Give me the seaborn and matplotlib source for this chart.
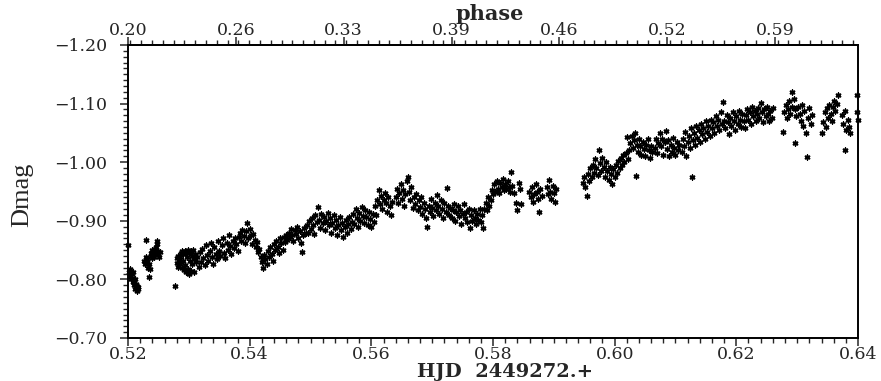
import matplotlib
matplotlib.use("Agg")
import matplotlib.pyplot as plt
from matplotlib.ticker import MultipleLocator, FixedLocator, FuncFormatter
import seaborn as sns
import pandas as pd

# Differential magnitudes, grouped by stretch of the night: (HJD - 2449272, Dmag)
obs_start = [
    (0.5200, -0.859), (0.5202, -0.812), (0.5203, -0.806), (0.5204, -0.818), (0.5205, -0.800),
    (0.5206, -0.810), (0.5207, -0.803), (0.5208, -0.795), (0.5209, -0.812), (0.5210, -0.790),
    (0.5211, -0.800), (0.5212, -0.784), (0.5213, -0.793), (0.5214, -0.788), (0.5215, -0.781),
    (0.5216, -0.787), (0.5217, -0.783),
    (0.5227, -0.832), (0.5228, -0.826), (0.5229, -0.838), (0.5230, -0.867), (0.5231, -0.829),
    (0.5232, -0.835), (0.5233, -0.820), (0.5234, -0.804), (0.5235, -0.826), (0.5236, -0.818),
    (0.5237, -0.840), (0.5238, -0.845), (0.5239, -0.836), (0.5240, -0.850), (0.5241, -0.842),
    (0.5242, -0.848), (0.5243, -0.838), (0.5244, -0.852), (0.5245, -0.845), (0.5246, -0.855),
    (0.5247, -0.866), (0.5248, -0.860), (0.5249, -0.849), (0.5250, -0.843), (0.5251, -0.838),
    (0.5252, -0.846), (0.5277, -0.788),
]

obs_rise = [
    (0.5280, -0.836), (0.5281, -0.828), (0.5282, -0.840), (0.5283, -0.822), (0.5284, -0.833),
    (0.5285, -0.826), (0.5286, -0.838), (0.5287, -0.845), (0.5288, -0.820), (0.5289, -0.848),
    (0.5290, -0.831), (0.5291, -0.843), (0.5292, -0.816), (0.5293, -0.849), (0.5294, -0.825),
    (0.5295, -0.847), (0.5296, -0.812), (0.5297, -0.838), (0.5298, -0.851), (0.5299, -0.818),
    (0.5300, -0.845), (0.5301, -0.809), (0.5302, -0.832), (0.5303, -0.848), (0.5304, -0.815),
    (0.5305, -0.840), (0.5306, -0.826), (0.5307, -0.851), (0.5308, -0.835), (0.5309, -0.812),
    (0.5310, -0.843), (0.5311, -0.830), (0.5314, -0.838), (0.5316, -0.822), (0.5318, -0.846),
    (0.5320, -0.830), (0.5322, -0.852), (0.5324, -0.836), (0.5326, -0.825), (0.5328, -0.858),
    (0.5330, -0.842), (0.5332, -0.831), (0.5334, -0.849), (0.5336, -0.862), (0.5338, -0.838),
    (0.5340, -0.826), (0.5342, -0.855), (0.5344, -0.843), (0.5346, -0.834), (0.5348, -0.866),
    (0.5350, -0.848), (0.5352, -0.840), (0.5354, -0.858), (0.5356, -0.870), (0.5358, -0.845),
    (0.5360, -0.836), (0.5362, -0.862), (0.5364, -0.851), (0.5366, -0.876), (0.5368, -0.857),
    (0.5370, -0.844), (0.5372, -0.866), (0.5374, -0.853), (0.5376, -0.870), (0.5378, -0.860),
    (0.5380, -0.848), (0.5382, -0.872), (0.5384, -0.880), (0.5386, -0.866), (0.5388, -0.885),
    (0.5390, -0.874), (0.5392, -0.862), (0.5394, -0.882), (0.5396, -0.896), (0.5398, -0.870),
    (0.5400, -0.886), (0.5402, -0.876), (0.5404, -0.860), (0.5406, -0.878), (0.5408, -0.868),
    (0.5410, -0.856), (0.5412, -0.864), (0.5414, -0.846), (0.5416, -0.852), (0.5418, -0.838),
    (0.5420, -0.830), (0.5422, -0.820), (0.5424, -0.842), (0.5426, -0.834), (0.5428, -0.826),
    (0.5430, -0.848), (0.5432, -0.838), (0.5434, -0.855), (0.5436, -0.844), (0.5438, -0.832),
    (0.5440, -0.860), (0.5442, -0.850), (0.5444, -0.866), (0.5446, -0.856), (0.5448, -0.845),
    (0.5450, -0.870), (0.5452, -0.862), (0.5454, -0.850), (0.5456, -0.872), (0.5458, -0.864),
    (0.5460, -0.876), (0.5462, -0.868), (0.5464, -0.880), (0.5466, -0.872), (0.5468, -0.886),
    (0.5470, -0.875), (0.5472, -0.866), (0.5474, -0.884), (0.5476, -0.878), (0.5478, -0.890),
    (0.5480, -0.870), (0.5482, -0.882), (0.5484, -0.862), (0.5486, -0.846), (0.5488, -0.876),
    (0.5490, -0.888), (0.5492, -0.880),
]

obs_middle = [
    (0.5494, -0.892), (0.5496, -0.880), (0.5498, -0.900), (0.5500, -0.886), (0.5502, -0.904),
    (0.5504, -0.893), (0.5506, -0.878), (0.5508, -0.910), (0.5510, -0.898), (0.5512, -0.924),
    (0.5514, -0.902), (0.5516, -0.888), (0.5518, -0.912), (0.5520, -0.896), (0.5522, -0.906),
    (0.5524, -0.884), (0.5526, -0.900), (0.5528, -0.914), (0.5530, -0.893), (0.5532, -0.905),
    (0.5534, -0.880), (0.5536, -0.897), (0.5538, -0.910), (0.5540, -0.888), (0.5542, -0.902),
    (0.5544, -0.876), (0.5546, -0.893), (0.5548, -0.906), (0.5550, -0.884), (0.5552, -0.897),
    (0.5554, -0.872), (0.5556, -0.890), (0.5558, -0.902), (0.5560, -0.880), (0.5562, -0.894),
    (0.5564, -0.906), (0.5566, -0.886), (0.5568, -0.898), (0.5570, -0.912), (0.5572, -0.894),
    (0.5574, -0.920), (0.5576, -0.904), (0.5578, -0.890), (0.5580, -0.914), (0.5582, -0.900),
    (0.5584, -0.924), (0.5586, -0.908), (0.5588, -0.896), (0.5590, -0.918), (0.5592, -0.906),
    (0.5594, -0.892), (0.5596, -0.915), (0.5598, -0.903), (0.5600, -0.890), (0.5602, -0.912),
    (0.5604, -0.898), (0.5606, -0.925), (0.5608, -0.910), (0.5610, -0.935), (0.5612, -0.952),
    (0.5614, -0.928), (0.5616, -0.942), (0.5618, -0.920), (0.5620, -0.936), (0.5622, -0.948),
    (0.5624, -0.930), (0.5626, -0.915), (0.5628, -0.940), (0.5630, -0.925), (0.5632, -0.910),
    (0.5634, -0.932), (0.5640, -0.940), (0.5642, -0.955), (0.5644, -0.930), (0.5646, -0.948),
    (0.5648, -0.962), (0.5650, -0.938), (0.5652, -0.952), (0.5654, -0.925), (0.5656, -0.945),
    (0.5658, -0.968), (0.5660, -0.975), (0.5662, -0.950), (0.5664, -0.935), (0.5666, -0.958),
    (0.5668, -0.922), (0.5670, -0.940), (0.5672, -0.928), (0.5674, -0.946), (0.5676, -0.918),
    (0.5678, -0.935), (0.5680, -0.924), (0.5682, -0.940), (0.5684, -0.912), (0.5686, -0.930),
    (0.5688, -0.920), (0.5690, -0.905), (0.5692, -0.889), (0.5694, -0.926), (0.5696, -0.915),
    (0.5698, -0.938), (0.5700, -0.922), (0.5702, -0.908), (0.5704, -0.930), (0.5706, -0.918),
    (0.5708, -0.944), (0.5710, -0.926), (0.5712, -0.912), (0.5714, -0.935), (0.5716, -0.920),
    (0.5718, -0.905), (0.5720, -0.930), (0.5722, -0.915), (0.5724, -0.956), (0.5726, -0.925),
    (0.5728, -0.910), (0.5730, -0.922), (0.5732, -0.905), (0.5734, -0.918), (0.5736, -0.928),
    (0.5738, -0.900), (0.5740, -0.915), (0.5742, -0.925), (0.5744, -0.908), (0.5746, -0.918),
    (0.5748, -0.895), (0.5750, -0.912), (0.5752, -0.928), (0.5754, -0.905), (0.5756, -0.915),
    (0.5758, -0.898), (0.5760, -0.920), (0.5762, -0.888), (0.5764, -0.910), (0.5766, -0.900),
    (0.5768, -0.918), (0.5770, -0.905), (0.5772, -0.895), (0.5774, -0.912), (0.5776, -0.902),
    (0.5778, -0.920), (0.5780, -0.898), (0.5782, -0.910), (0.5784, -0.888), (0.5786, -0.920),
    (0.5788, -0.930), (0.5790, -0.918), (0.5792, -0.940), (0.5794, -0.925), (0.5796, -0.935),
    (0.5798, -0.952), (0.5800, -0.945), (0.5802, -0.962), (0.5804, -0.950), (0.5806, -0.968),
    (0.5808, -0.955), (0.5810, -0.948), (0.5812, -0.965), (0.5814, -0.958), (0.5816, -0.972),
    (0.5818, -0.952), (0.5820, -0.962), (0.5822, -0.955), (0.5824, -0.968), (0.5826, -0.958),
    (0.5828, -0.950), (0.5830, -0.983), (0.5832, -0.960), (0.5834, -0.948), (0.5838, -0.930),
    (0.5840, -0.918), (0.5842, -0.965), (0.5844, -0.955), (0.5846, -0.928), (0.5860, -0.950),
    (0.5862, -0.940), (0.5864, -0.958), (0.5866, -0.932), (0.5868, -0.945), (0.5870, -0.962),
    (0.5872, -0.950), (0.5874, -0.938), (0.5876, -0.915), (0.5878, -0.955), (0.5880, -0.942),
    (0.5888, -0.958), (0.5890, -0.945), (0.5892, -0.970), (0.5894, -0.950), (0.5896, -0.938),
    (0.5898, -0.960), (0.5900, -0.948), (0.5902, -0.932), (0.5904, -0.955),
]

obs_late = [
    (0.5948, -0.965), (0.5950, -0.975), (0.5952, -0.958), (0.5954, -0.942), (0.5956, -0.980),
    (0.5958, -0.968), (0.5960, -0.990), (0.5962, -0.975), (0.5964, -0.995), (0.5966, -0.982),
    (0.5968, -1.005), (0.5970, -0.990), (0.5972, -0.978), (0.5974, -1.021), (0.5976, -0.998),
    (0.5978, -0.985), (0.5980, -1.008), (0.5982, -0.992), (0.5984, -0.975), (0.5986, -1.000),
    (0.5988, -0.985), (0.5990, -0.970), (0.5992, -0.992), (0.5994, -0.980), (0.5996, -0.962),
    (0.5998, -0.988), (0.6000, -0.975), (0.6002, -0.995), (0.6004, -0.982), (0.6006, -1.002),
    (0.6008, -0.990), (0.6010, -1.008), (0.6012, -0.995), (0.6014, -1.012), (0.6016, -1.000),
    (0.6018, -1.015), (0.6020, -1.043), (0.6022, -1.006), (0.6024, -1.020), (0.6026, -1.032),
    (0.6028, -1.045), (0.6030, -1.025), (0.6032, -1.038), (0.6034, -1.050), (0.6035, -0.976),
    (0.6036, -1.030), (0.6038, -1.018), (0.6040, -1.040), (0.6042, -1.028), (0.6044, -1.012),
    (0.6046, -1.035), (0.6048, -1.022), (0.6050, -1.010), (0.6052, -1.030), (0.6054, -1.040),
    (0.6056, -1.020), (0.6058, -1.008), (0.6060, -1.028), (0.6062, -1.018), (0.6066, -1.025),
    (0.6068, -1.040), (0.6070, -1.015), (0.6072, -1.032), (0.6074, -1.050), (0.6076, -1.028),
    (0.6078, -1.040), (0.6080, -1.012), (0.6082, -1.035), (0.6084, -1.053), (0.6086, -1.022),
    (0.6088, -1.038), (0.6090, -1.010), (0.6092, -1.030), (0.6094, -1.018), (0.6096, -1.042),
    (0.6098, -1.025), (0.6100, -1.012), (0.6102, -1.035), (0.6104, -1.020), (0.6106, -1.030),
    (0.6110, -1.018), (0.6112, -1.040), (0.6114, -1.028), (0.6116, -1.052), (0.6118, -1.010),
    (0.6120, -1.035), (0.6122, -1.045), (0.6124, -1.025), (0.6126, -1.058), (0.6127, -0.975),
    (0.6128, -1.038), (0.6130, -1.050), (0.6132, -1.030), (0.6134, -1.062), (0.6136, -1.042),
    (0.6138, -1.055), (0.6140, -1.035), (0.6142, -1.065), (0.6144, -1.048), (0.6146, -1.058),
    (0.6148, -1.040), (0.6150, -1.070), (0.6152, -1.052), (0.6154, -1.062), (0.6156, -1.045),
    (0.6158, -1.072), (0.6160, -1.058), (0.6162, -1.068), (0.6164, -1.050), (0.6166, -1.078),
    (0.6168, -1.062), (0.6170, -1.072), (0.6172, -1.055), (0.6174, -1.085), (0.6176, -1.065),
    (0.6178, -1.103), (0.6180, -1.070), (0.6182, -1.058), (0.6184, -1.080), (0.6186, -1.068),
    (0.6188, -1.048), (0.6190, -1.075), (0.6192, -1.062), (0.6194, -1.085), (0.6196, -1.070),
    (0.6198, -1.055), (0.6200, -1.078), (0.6202, -1.065), (0.6204, -1.088), (0.6206, -1.072),
    (0.6208, -1.060), (0.6210, -1.082), (0.6212, -1.070), (0.6214, -1.058), (0.6216, -1.080),
    (0.6218, -1.090), (0.6220, -1.072), (0.6222, -1.085), (0.6224, -1.065), (0.6226, -1.095),
    (0.6228, -1.078), (0.6230, -1.088), (0.6232, -1.070), (0.6234, -1.082), (0.6236, -1.092),
    (0.6238, -1.075), (0.6240, -1.101), (0.6242, -1.085), (0.6244, -1.068), (0.6246, -1.090),
    (0.6248, -1.078), (0.6250, -1.095), (0.6252, -1.082), (0.6254, -1.070), (0.6256, -1.088),
    (0.6258, -1.076), (0.6260, -1.092),
]

obs_end = [
    (0.6277, -1.052), (0.6279, -1.085), (0.6281, -1.098), (0.6283, -1.075), (0.6285, -1.090),
    (0.6287, -1.105), (0.6289, -1.082), (0.6291, -1.095), (0.6292, -1.120), (0.6294, -1.108),
    (0.6296, -1.090), (0.6297, -1.033), (0.6298, -1.078), (0.6302, -1.095), (0.6304, -1.082),
    (0.6306, -1.070), (0.6308, -1.098), (0.6310, -1.062), (0.6312, -1.088), (0.6314, -1.050),
    (0.6316, -1.009), (0.6318, -1.075), (0.6320, -1.092), (0.6322, -1.065), (0.6324, -1.080),
    (0.6341, -1.050), (0.6343, -1.068), (0.6345, -1.085), (0.6347, -1.060), (0.6349, -1.092),
    (0.6351, -1.075), (0.6353, -1.098), (0.6355, -1.082), (0.6357, -1.070), (0.6359, -1.095),
    (0.6361, -1.105), (0.6363, -1.088), (0.6365, -1.100), (0.6367, -1.115), (0.6374, -1.080),
    (0.6376, -1.065), (0.6378, -1.088), (0.6379, -1.021), (0.6381, -1.055), (0.6383, -1.072),
    (0.6385, -1.060), (0.6387, -1.050), (0.6398, -1.115), (0.6399, -1.085), (0.6400, -1.072),
]

# Phase scale shown along the top edge
phase_ticks = [0.20, 0.265, 0.33, 0.395, 0.46, 0.525, 0.59]
phase_labels = ["0.20", "0.26", "0.33", "0.39", "0.46", "0.52", "0.59"]
PHASE_AT_START = 0.20
PERIOD = 0.2728  # days
HJD_START = 0.52

rows = obs_start + obs_rise + obs_middle + obs_late + obs_end
df = pd.DataFrame(rows, columns=["hjd", "dmag"])

sns.set_style("ticks")
plt.rcParams["font.family"] = ["DejaVu Serif"]
plt.rcParams["axes.linewidth"] = 1.4

fig = plt.figure(figsize=(8.81, 3.81), dpi=100)
ax = fig.add_axes([128 / 881, 1 - 338 / 381, 730 / 881, 293 / 381])

sns.scatterplot(data=df, x="hjd", y="dmag", ax=ax, color="black",
                marker=(6, 2, 0), s=12, linewidth=1.1, edgecolor="black",
                legend=False, clip_on=False, zorder=3)

ax.set_xlim(0.52, 0.64)
ax.set_ylim(-0.70, -1.20)
ax.set_xlabel("")
ax.set_ylabel("")

for side in ["top", "right", "left", "bottom"]:
    ax.spines[side].set_visible(True)
    ax.spines[side].set_color("black")

minus = "\u2212"
ax.xaxis.set_major_locator(MultipleLocator(0.02))
ax.xaxis.set_minor_locator(MultipleLocator(0.002))
ax.xaxis.set_major_formatter(FuncFormatter(lambda v, p: f"{v:.2f}"))
ax.yaxis.set_major_locator(MultipleLocator(0.10))
ax.yaxis.set_minor_locator(MultipleLocator(0.01))
ax.yaxis.set_major_formatter(FuncFormatter(lambda v, p: f"{minus}{abs(v):.2f}"))

ax.tick_params(axis="x", which="major", direction="out", length=6, width=1.1,
               labelsize=12.5, pad=0, top=False)
ax.tick_params(axis="x", which="minor", direction="out", length=3.5, width=1.0, top=False)
ax.tick_params(axis="y", which="major", direction="out", length=6, width=1.1,
               labelsize=12.5, pad=9, right=False)
ax.tick_params(axis="y", which="minor", direction="out", length=3.5, width=1.0, right=False)


def to_phase(h):
    return PHASE_AT_START + (h - HJD_START) / PERIOD


def to_hjd(p):
    return HJD_START + (p - PHASE_AT_START) * PERIOD


top = ax.secondary_xaxis("top", functions=(to_phase, to_hjd))
top.xaxis.set_major_locator(FixedLocator(phase_ticks))
top.set_xticklabels(phase_labels)
top.xaxis.set_minor_locator(MultipleLocator(0.0065))
top.tick_params(axis="x", which="major", direction="out", length=6, width=1.1,
                labelsize=12.5, pad=-2)
top.tick_params(axis="x", which="minor", direction="out", length=3.5, width=1.0)
top.spines["top"].set_linewidth(1.4)

fig.text(490 / 881, 1 - 14 / 381, "phase", ha="center", va="center",
         fontsize=15, fontweight="bold")
fig.text(505 / 881, 1 - 372 / 381, "HJD  2449272.+", ha="center", va="center",
         fontsize=14, fontweight="bold")
fig.text(22 / 881, 1 - 195 / 381, "Dmag", ha="center", va="center", rotation=90,
         fontsize=19, family=["Liberation Serif"])

fig.savefig("out.png", dpi=100)
